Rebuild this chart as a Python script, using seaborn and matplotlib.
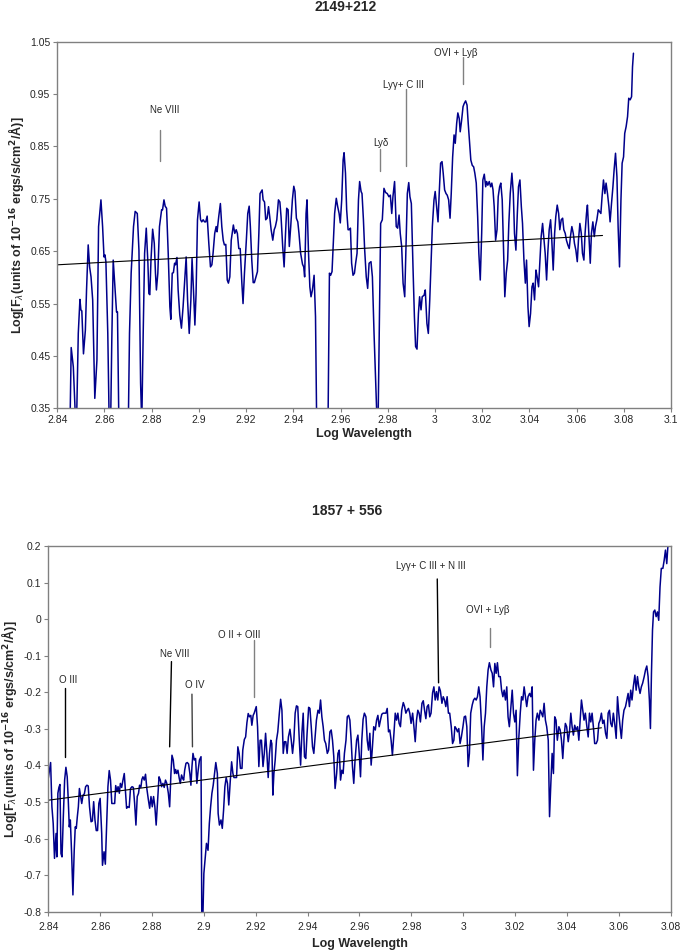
import numpy as np
import matplotlib
matplotlib.use("Agg")
import matplotlib.pyplot as plt
import seaborn as sns

# ---- spectrum 2149+212 ----
top_logwav = [
    2.8454, 2.8459, 2.8468, 2.8478, 2.8482, 2.8489, 2.8496, 2.8500, 2.8504, 2.8511,
    2.8519, 2.8524, 2.8531, 2.8537, 2.8543, 2.8550, 2.8559, 2.8568, 2.8575, 2.8585,
    2.8592, 2.8598, 2.8602, 2.8606, 2.8614, 2.8620, 2.8626, 2.8631, 2.8637, 2.8644,
    2.8651, 2.8655, 2.8661, 2.8701, 2.8706, 2.8713, 2.8723, 2.8730, 2.8739, 2.8746,
    2.8753, 2.8758, 2.8764, 2.8770, 2.8777, 2.8784, 2.8788, 2.8792, 2.8797, 2.8804,
    2.8811, 2.8816, 2.8820, 2.8826, 2.8833, 2.8842, 2.8846, 2.8852, 2.8857, 2.8863,
    2.8870, 2.8877, 2.8881, 2.8887, 2.8892, 2.8897, 2.8901, 2.8907, 2.8912, 2.8919,
    2.8926, 2.8933, 2.8940, 2.8946, 2.8952, 2.8959, 2.8966, 2.8971, 2.8977, 2.8983,
    2.8988, 2.8994, 2.9001, 2.9007, 2.9012, 2.9018, 2.9024, 2.9029, 2.9035, 2.9042,
    2.9049, 2.9055, 2.9060, 2.9067, 2.9073, 2.9077, 2.9084, 2.9091, 2.9097, 2.9103,
    2.9108, 2.9114, 2.9120, 2.9125, 2.9131, 2.9137, 2.9142, 2.9146, 2.9152, 2.9158,
    2.9163, 2.9169, 2.9175, 2.9182, 2.9187, 2.9193, 2.9201, 2.9207, 2.9213, 2.9218,
    2.9224, 2.9230, 2.9235, 2.9242, 2.9248, 2.9254, 2.9259, 2.9264, 2.9268, 2.9272,
    2.9278, 2.9283, 2.9289, 2.9295, 2.9300, 2.9306, 2.9313, 2.9319, 2.9324, 2.9330,
    2.9337, 2.9343, 2.9348, 2.9355, 2.9361, 2.9367, 2.9372, 2.9378, 2.9383, 2.9389,
    2.9396, 2.9402, 2.9407, 2.9413, 2.9419, 2.9424, 2.9431, 2.9439, 2.9444, 2.9448,
    2.9454, 2.9458, 2.9464, 2.9470, 2.9475, 2.9481, 2.9488, 2.9494, 2.9499, 2.9547,
    2.9553, 2.9558, 2.9564, 2.9570, 2.9575, 2.9582, 2.9588, 2.9594, 2.9599, 2.9605,
    2.9611, 2.9615, 2.9621, 2.9626, 2.9632, 2.9637, 2.9642, 2.9647, 2.9653, 2.9659,
    2.9664, 2.9670, 2.9676, 2.9681, 2.9687, 2.9691, 2.9697, 2.9702, 2.9709, 2.9715,
    2.9721, 2.9729, 2.9735, 2.9742, 2.9749, 2.9755, 2.9759, 2.9764, 2.9770, 2.9777,
    2.9784, 2.9791, 2.9798, 2.9805, 2.9811, 2.9817, 2.9822, 2.9829, 2.9836, 2.9842,
    2.9848, 2.9853, 2.9859, 2.9865, 2.9872, 2.9877, 2.9883, 2.9889, 2.9894, 2.9900,
    2.9907, 2.9913, 2.9918, 2.9924, 2.9930, 2.9935, 2.9941, 2.9946, 2.9954, 2.9959,
    2.9966, 2.9972, 2.9978, 2.9983, 2.9989, 2.9996, 3.0001, 3.0007, 3.0013, 3.0018,
    3.0024, 3.0030, 3.0035, 3.0041, 3.0047, 3.0052, 3.0058, 3.0064, 3.0069, 3.0075,
    3.0081, 3.0086, 3.0092, 3.0097, 3.0103, 3.0107, 3.0113, 3.0119, 3.0124, 3.0130,
    3.0136, 3.0141, 3.0147, 3.0152, 3.0158, 3.0164, 3.0169, 3.0175, 3.0181, 3.0186,
    3.0192, 3.0198, 3.0203, 3.0209, 3.0215, 3.0219, 3.0224, 3.0230, 3.0236, 3.0241,
    3.0246, 3.0251, 3.0257, 3.0263, 3.0268, 3.0274, 3.0279, 3.0285, 3.0291, 3.0296,
    3.0302, 3.0308, 3.0313, 3.0319, 3.0326, 3.0332, 3.0337, 3.0343, 3.0349, 3.0354,
    3.0360, 3.0366, 3.0371, 3.0377, 3.0383, 3.0388, 3.0394, 3.0399, 3.0405, 3.0411,
    3.0416, 3.0422, 3.0428, 3.0433, 3.0439, 3.0445, 3.0450, 3.0456, 3.0462, 3.0467,
    3.0473, 3.0478, 3.0484, 3.0490, 3.0495, 3.0501, 3.0507, 3.0512, 3.0518, 3.0524,
    3.0529, 3.0535, 3.0541, 3.0546, 3.0552, 3.0557, 3.0563, 3.0569, 3.0574, 3.0580,
    3.0586, 3.0591, 3.0597, 3.0603, 3.0608, 3.0614, 3.0620, 3.0625, 3.0631, 3.0636,
    3.0642, 3.0646, 3.0652, 3.0658, 3.0663, 3.0669, 3.0675, 3.0680, 3.0686, 3.0692,
    3.0697, 3.0703, 3.0708, 3.0714, 3.0720, 3.0725, 3.0731, 3.0737, 3.0742, 3.0748,
    3.0754, 3.0759, 3.0765, 3.0771, 3.0776, 3.0782, 3.0788, 3.0793, 3.0799, 3.0804,
    3.0810, 3.0816, 3.0821, 3.0827, 3.0833, 3.0837, 3.0841,
]
top_logflux = [
    0.320, 0.466, 0.429, 0.320, 0.330, 0.493, 0.558, 0.538, 0.536, 0.454,
    0.499, 0.576, 0.662, 0.620, 0.601, 0.557, 0.369, 0.442, 0.697, 0.748,
    0.697, 0.639, 0.643, 0.630, 0.493, 0.320, 0.320, 0.480, 0.633, 0.582,
    0.534, 0.534, 0.320, 0.320, 0.493, 0.608, 0.697, 0.726, 0.722, 0.652,
    0.398, 0.320, 0.493, 0.646, 0.694, 0.627, 0.569, 0.567, 0.633, 0.692,
    0.665, 0.608, 0.576, 0.608, 0.697, 0.729, 0.729, 0.748, 0.736, 0.732,
    0.646, 0.544, 0.520, 0.608, 0.609, 0.627, 0.624, 0.638, 0.576, 0.528,
    0.503, 0.544, 0.595, 0.639, 0.557, 0.493, 0.557, 0.636, 0.576, 0.509,
    0.569, 0.710, 0.744, 0.710, 0.706, 0.710, 0.706, 0.706, 0.717, 0.665,
    0.620, 0.624, 0.646, 0.684, 0.697, 0.687, 0.716, 0.741, 0.697, 0.671,
    0.662, 0.663, 0.595, 0.589, 0.601, 0.671, 0.687, 0.700, 0.684, 0.691,
    0.684, 0.655, 0.655, 0.589, 0.550, 0.608, 0.671, 0.722, 0.736, 0.697,
    0.633, 0.590, 0.590, 0.601, 0.611, 0.684, 0.760, 0.764, 0.767, 0.748,
    0.744, 0.710, 0.713, 0.735, 0.716, 0.691, 0.671, 0.691, 0.697, 0.710,
    0.748, 0.744, 0.716, 0.659, 0.620, 0.684, 0.732, 0.729, 0.659, 0.697,
    0.748, 0.774, 0.764, 0.713, 0.706, 0.684, 0.646, 0.625, 0.620, 0.601,
    0.722, 0.748, 0.652, 0.582, 0.563, 0.576, 0.604, 0.525, 0.320, 0.320,
    0.608, 0.604, 0.611, 0.671, 0.722, 0.751, 0.735, 0.722, 0.704, 0.748,
    0.824, 0.838, 0.799, 0.729, 0.691, 0.691, 0.694, 0.627, 0.604, 0.608,
    0.627, 0.646, 0.748, 0.783, 0.764, 0.760, 0.710, 0.655, 0.601, 0.579,
    0.627, 0.630, 0.601, 0.493, 0.398, 0.320, 0.320, 0.493, 0.703, 0.710,
    0.770, 0.762, 0.760, 0.754, 0.757, 0.722, 0.754, 0.783, 0.697, 0.694,
    0.719, 0.684, 0.659, 0.589, 0.563, 0.652, 0.760, 0.781, 0.754, 0.741,
    0.620, 0.525, 0.468, 0.463, 0.531, 0.563, 0.538, 0.563, 0.566, 0.576,
    0.512, 0.493, 0.557, 0.620, 0.697, 0.748, 0.764, 0.735, 0.706, 0.760,
    0.818, 0.821, 0.799, 0.767, 0.760, 0.757, 0.748, 0.713, 0.760, 0.830,
    0.872, 0.856, 0.894, 0.914, 0.903, 0.878, 0.900, 0.926, 0.932, 0.937,
    0.929, 0.894, 0.856, 0.824, 0.814, 0.811, 0.799, 0.780, 0.716, 0.646,
    0.595, 0.684, 0.786, 0.797, 0.773, 0.783, 0.776, 0.783, 0.773, 0.780,
    0.767, 0.735, 0.671, 0.691, 0.754, 0.773, 0.780, 0.748, 0.646, 0.563,
    0.608, 0.633, 0.703, 0.760, 0.799, 0.760, 0.684, 0.652, 0.722, 0.773,
    0.786, 0.735, 0.703, 0.633, 0.589, 0.633, 0.544, 0.506, 0.531, 0.582,
    0.589, 0.557, 0.614, 0.601, 0.582, 0.633, 0.678, 0.703, 0.671, 0.646,
    0.595, 0.646, 0.691, 0.710, 0.671, 0.614, 0.684, 0.716, 0.738, 0.722,
    0.691, 0.710, 0.713, 0.691, 0.684, 0.671, 0.662, 0.655, 0.678, 0.697,
    0.684, 0.665, 0.652, 0.630, 0.671, 0.703, 0.684, 0.646, 0.633, 0.684,
    0.722, 0.738, 0.684, 0.627, 0.684, 0.706, 0.678, 0.697, 0.710, 0.729,
    0.726, 0.722, 0.754, 0.786, 0.760, 0.780, 0.760, 0.735, 0.706, 0.741,
    0.773, 0.805, 0.837, 0.792, 0.697, 0.620, 0.748, 0.818, 0.830, 0.875,
    0.888, 0.907, 0.942, 0.939, 0.945, 1.002, 1.028,
]
top_trend_x = [2.84, 3.071]
top_trend_y = [0.624, 0.680]

top_labels = ["Ne VIII", "Lyδ", "Lyγ+ C III", "OVI + Lyβ"]
top_label_x = [2.8853, 2.9769, 2.9867, 3.0089]
top_label_y = [0.920, 0.856, 0.967, 1.028]
top_tick_x = [2.8837, 2.9766, 2.9877, 3.0119]
top_tick_y0 = [0.881, 0.846, 0.959, 1.021]
top_tick_y1 = [0.823, 0.804, 0.813, 0.970]

# ---- spectrum 1857 + 556 ----
bot_logwav = [
    2.8400, 2.8409, 2.8414, 2.8419, 2.8424, 2.8430, 2.8433, 2.8437, 2.8441, 2.8445,
    2.8449, 2.8453, 2.8458, 2.8463, 2.8468, 2.8473, 2.8477, 2.8481, 2.8485, 2.8490,
    2.8495, 2.8500, 2.8504, 2.8508, 2.8512, 2.8516, 2.8520, 2.8525, 2.8529, 2.8534,
    2.8539, 2.8544, 2.8549, 2.8554, 2.8559, 2.8565, 2.8570, 2.8575, 2.8580, 2.8585,
    2.8590, 2.8595, 2.8600, 2.8606, 2.8609, 2.8615, 2.8620, 2.8625, 2.8630, 2.8635,
    2.8640, 2.8645, 2.8651, 2.8656, 2.8660, 2.8665, 2.8669, 2.8674, 2.8678, 2.8683,
    2.8688, 2.8693, 2.8698, 2.8702, 2.8707, 2.8712, 2.8717, 2.8723, 2.8728, 2.8733,
    2.8738, 2.8743, 2.8748, 2.8752, 2.8757, 2.8761, 2.8765, 2.8770, 2.8775, 2.8780,
    2.8786, 2.8791, 2.8796, 2.8801, 2.8806, 2.8811, 2.8816, 2.8821, 2.8827, 2.8832,
    2.8837, 2.8842, 2.8847, 2.8852, 2.8857, 2.8863, 2.8868, 2.8873, 2.8877, 2.8882,
    2.8887, 2.8891, 2.8895, 2.8900, 2.8905, 2.8909, 2.8914, 2.8918, 2.8922, 2.8926,
    2.8931, 2.8936, 2.8941, 2.8946, 2.8950, 2.8954, 2.8958, 2.8963, 2.8968, 2.8973,
    2.8978, 2.8983, 2.8989, 2.8992, 2.8996, 2.9000, 2.9005, 2.9010, 2.9016, 2.9021,
    2.9026, 2.9031, 2.9036, 2.9041, 2.9046, 2.9052, 2.9055, 2.9060, 2.9066, 2.9071,
    2.9076, 2.9081, 2.9086, 2.9091, 2.9096, 2.9102, 2.9107, 2.9112, 2.9116, 2.9121,
    2.9126, 2.9131, 2.9136, 2.9141, 2.9147, 2.9150, 2.9156, 2.9161, 2.9166, 2.9171,
    2.9176, 2.9181, 2.9185, 2.9190, 2.9194, 2.9202, 2.9207, 2.9212, 2.9217, 2.9222,
    2.9228, 2.9233, 2.9238, 2.9243, 2.9248, 2.9253, 2.9258, 2.9262, 2.9266, 2.9270,
    2.9275, 2.9280, 2.9285, 2.9291, 2.9296, 2.9301, 2.9306, 2.9311, 2.9316, 2.9321,
    2.9326, 2.9332, 2.9337, 2.9342, 2.9347, 2.9352, 2.9357, 2.9362, 2.9368, 2.9373,
    2.9378, 2.9383, 2.9388, 2.9393, 2.9398, 2.9404, 2.9409, 2.9414, 2.9419, 2.9424,
    2.9429, 2.9434, 2.9440, 2.9445, 2.9450, 2.9455, 2.9460, 2.9465, 2.9470, 2.9476,
    2.9481, 2.9486, 2.9491, 2.9496, 2.9501, 2.9506, 2.9512, 2.9517, 2.9522, 2.9527,
    2.9532, 2.9537, 2.9542, 2.9548, 2.9553, 2.9558, 2.9563, 2.9568, 2.9573, 2.9578,
    2.9583, 2.9589, 2.9594, 2.9599, 2.9604, 2.9609, 2.9614, 2.9619, 2.9625, 2.9630,
    2.9635, 2.9640, 2.9645, 2.9650, 2.9655, 2.9661, 2.9666, 2.9671, 2.9676, 2.9681,
    2.9686, 2.9691, 2.9697, 2.9702, 2.9707, 2.9712, 2.9717, 2.9722, 2.9727, 2.9733,
    2.9738, 2.9743, 2.9748, 2.9753, 2.9758, 2.9763, 2.9769, 2.9774, 2.9779, 2.9784,
    2.9789, 2.9794, 2.9799, 2.9805, 2.9810, 2.9815, 2.9820, 2.9825, 2.9830, 2.9835,
    2.9841, 2.9846, 2.9851, 2.9856, 2.9861, 2.9866, 2.9871, 2.9876, 2.9882, 2.9887,
    2.9892, 2.9897, 2.9902, 2.9907, 2.9912, 2.9918, 2.9923, 2.9928, 2.9933, 2.9938,
    2.9943, 2.9948, 2.9954, 2.9959, 2.9964, 2.9968, 2.9973, 2.9978, 2.9983, 2.9988,
    2.9993, 2.9999, 3.0004, 3.0009, 3.0014, 3.0019, 3.0024, 3.0029, 3.0035, 3.0040,
    3.0045, 3.0050, 3.0055, 3.0060, 3.0065, 3.0071, 3.0076, 3.0081, 3.0086, 3.0091,
    3.0096, 3.0101, 3.0107, 3.0112, 3.0117, 3.0122, 3.0127, 3.0132, 3.0137, 3.0143,
    3.0148, 3.0153, 3.0158, 3.0163, 3.0168, 3.0173, 3.0178, 3.0184, 3.0189, 3.0194,
    3.0199, 3.0204, 3.0209, 3.0214, 3.0220, 3.0225, 3.0230, 3.0235, 3.0240, 3.0245,
    3.0250, 3.0256, 3.0261, 3.0266, 3.0271, 3.0276, 3.0281, 3.0286, 3.0292, 3.0297,
    3.0302, 3.0307, 3.0312, 3.0317, 3.0322, 3.0328, 3.0333, 3.0338, 3.0343, 3.0348,
    3.0353, 3.0358, 3.0363, 3.0369, 3.0374, 3.0379, 3.0384, 3.0389, 3.0394, 3.0399,
    3.0405, 3.0410, 3.0415, 3.0420, 3.0425, 3.0430, 3.0435, 3.0441, 3.0446, 3.0451,
    3.0456, 3.0461, 3.0466, 3.0471, 3.0477, 3.0482, 3.0487, 3.0492, 3.0497, 3.0502,
    3.0507, 3.0513, 3.0518, 3.0523, 3.0528, 3.0533, 3.0538, 3.0543, 3.0549, 3.0554,
    3.0559, 3.0564, 3.0569, 3.0574, 3.0579, 3.0585, 3.0590, 3.0595, 3.0600, 3.0605,
    3.0610, 3.0615, 3.0620, 3.0626, 3.0631, 3.0636, 3.0641, 3.0646, 3.0651, 3.0656,
    3.0662, 3.0667, 3.0672, 3.0677, 3.0682, 3.0687, 3.0692, 3.0698, 3.0703, 3.0708,
    3.0713, 3.0718, 3.0722, 3.0726, 3.0730, 3.0734, 3.0739, 3.0744, 3.0749, 3.0754,
    3.0759, 3.0764, 3.0770, 3.0775, 3.0780, 3.0785, 3.0789, 3.0793,
]
bot_logflux = [
    -0.435, -0.392, -0.513, -0.559, -0.654, -0.586, -0.650, -0.476, -0.460, -0.452,
    -0.641, -0.650, -0.540, -0.440, -0.405, -0.431, -0.494, -0.568, -0.549, -0.641,
    -0.754, -0.632, -0.568, -0.572, -0.540, -0.513, -0.463, -0.485, -0.504, -0.481,
    -0.478, -0.458, -0.454, -0.456, -0.513, -0.554, -0.552, -0.499, -0.549, -0.578,
    -0.578, -0.504, -0.490, -0.586, -0.673, -0.636, -0.670, -0.568, -0.458, -0.414,
    -0.440, -0.504, -0.504, -0.504, -0.455, -0.472, -0.458, -0.476, -0.449, -0.460,
    -0.440, -0.422, -0.476, -0.517, -0.513, -0.515, -0.463, -0.458, -0.460, -0.504,
    -0.563, -0.485, -0.476, -0.454, -0.460, -0.438, -0.431, -0.440, -0.424, -0.463,
    -0.494, -0.517, -0.485, -0.513, -0.485, -0.513, -0.563, -0.504, -0.431, -0.440,
    -0.458, -0.449, -0.460, -0.440, -0.449, -0.476, -0.513, -0.422, -0.372, -0.385,
    -0.422, -0.411, -0.422, -0.413, -0.435, -0.449, -0.426, -0.435, -0.440, -0.413,
    -0.394, -0.392, -0.396, -0.422, -0.454, -0.404, -0.367, -0.385, -0.381, -0.449,
    -0.413, -0.385, -0.376, -0.820, -0.820, -0.695, -0.654, -0.613, -0.632, -0.559,
    -0.513, -0.476, -0.454, -0.422, -0.392, -0.422, -0.531, -0.563, -0.549, -0.572,
    -0.522, -0.458, -0.433, -0.449, -0.508, -0.440, -0.390, -0.422, -0.433, -0.433,
    -0.433, -0.349, -0.367, -0.408, -0.408, -0.358, -0.329, -0.322, -0.283, -0.258,
    -0.267, -0.263, -0.290, -0.263, -0.257, -0.239, -0.294, -0.403, -0.331, -0.331,
    -0.403, -0.367, -0.312, -0.367, -0.433, -0.367, -0.331, -0.340, -0.481, -0.422,
    -0.385, -0.331, -0.308, -0.257, -0.219, -0.249, -0.367, -0.335, -0.335, -0.367,
    -0.322, -0.301, -0.331, -0.367, -0.331, -0.257, -0.237, -0.239, -0.331, -0.399,
    -0.312, -0.257, -0.376, -0.381, -0.312, -0.241, -0.244, -0.294, -0.349, -0.367,
    -0.322, -0.276, -0.249, -0.257, -0.221, -0.267, -0.294, -0.331, -0.340, -0.367,
    -0.358, -0.308, -0.303, -0.331, -0.376, -0.463, -0.422, -0.367, -0.358, -0.440,
    -0.413, -0.422, -0.367, -0.331, -0.267, -0.263, -0.276, -0.331, -0.403, -0.449,
    -0.385, -0.331, -0.317, -0.367, -0.431, -0.331, -0.274, -0.257, -0.267, -0.331,
    -0.358, -0.312, -0.399, -0.349, -0.294, -0.303, -0.276, -0.263, -0.294, -0.276,
    -0.260, -0.257, -0.257, -0.257, -0.244, -0.308, -0.303, -0.331, -0.372, -0.312,
    -0.257, -0.276, -0.257, -0.285, -0.294, -0.249, -0.228, -0.239, -0.257, -0.249,
    -0.244, -0.257, -0.285, -0.257, -0.294, -0.335, -0.276, -0.249, -0.257, -0.281,
    -0.230, -0.223, -0.249, -0.272, -0.239, -0.234, -0.267, -0.257, -0.201, -0.185,
    -0.221, -0.198, -0.221, -0.185, -0.196, -0.230, -0.212, -0.221, -0.239, -0.212,
    -0.257, -0.257, -0.294, -0.340, -0.331, -0.294, -0.299, -0.308, -0.299, -0.340,
    -0.322, -0.294, -0.267, -0.265, -0.294, -0.403, -0.367, -0.257, -0.234, -0.221,
    -0.216, -0.221, -0.212, -0.185, -0.212, -0.294, -0.385, -0.294, -0.257, -0.185,
    -0.139, -0.119, -0.139, -0.148, -0.185, -0.121, -0.148, -0.119, -0.157, -0.157,
    -0.194, -0.212, -0.194, -0.221, -0.185, -0.267, -0.294, -0.239, -0.194, -0.257,
    -0.281, -0.249, -0.428, -0.331, -0.257, -0.212, -0.221, -0.185, -0.212, -0.239,
    -0.212, -0.203, -0.212, -0.185, -0.413, -0.331, -0.276, -0.257, -0.276, -0.249,
    -0.257, -0.267, -0.230, -0.276, -0.294, -0.331, -0.540, -0.449, -0.367, -0.422,
    -0.267, -0.276, -0.331, -0.294, -0.303, -0.331, -0.381, -0.322, -0.285, -0.294,
    -0.335, -0.308, -0.257, -0.294, -0.317, -0.290, -0.303, -0.294, -0.331, -0.276,
    -0.221, -0.249, -0.276, -0.257, -0.294, -0.322, -0.257, -0.281, -0.257, -0.294,
    -0.340, -0.340, -0.331, -0.285, -0.276, -0.257, -0.285, -0.276, -0.312, -0.326,
    -0.257, -0.249, -0.285, -0.294, -0.257, -0.290, -0.326, -0.212, -0.257, -0.294,
    -0.326, -0.276, -0.249, -0.239, -0.221, -0.203, -0.239, -0.194, -0.221, -0.185,
    -0.153, -0.194, -0.157, -0.185, -0.203, -0.185, -0.175, -0.157, -0.139, -0.128,
    -0.157, -0.221, -0.299, -0.148, -0.030, 0.020, 0.025, 0.007, 0.020, -0.003,
    0.088, 0.139, 0.139, 0.161, 0.189, 0.152, 0.196, 0.207,
]
bot_trend_x = [2.84, 3.0533]
bot_trend_y = [-0.495, -0.297]

bot_labels = ["O III", "Ne VIII", "O IV", "O II + OIII", "Lyγ+ C III + N III", "OVI + Lyβ"]
bot_label_x = [2.8475, 2.8886, 2.8965, 2.9136, 2.9874, 3.0094]
bot_label_y = [-0.165, -0.095, -0.180, -0.042, 0.145, 0.025]
bot_tick_x0 = [2.8466, 2.8875, 2.8954, 2.9194, 2.9900, 3.0103]
bot_tick_x1 = [2.8466, 2.8868, 2.8956, 2.9194, 2.9905, 3.0103]
bot_tick_y0 = [-0.189, -0.116, -0.205, -0.057, 0.110, -0.025]
bot_tick_y1 = [-0.378, -0.349, -0.349, -0.214, -0.174, -0.075]
bot_tick_colors = ["black", "black", "#404040", "#808080", "black", "#808080"]

sns.set_style("white")
plt.rcParams["font.family"] = ["Liberation Sans", "DejaVu Sans"]

spec_color = "#00008B"
ylab = r"Log[F$_\lambda$(units of 10$^{\mathbf{-16}}$ ergs/s/cm$^{\mathbf{2}}$/Å)]"


def num_fmt(v, pos):
    v = round(v, 2)
    if v == 0:
        return "0"
    return "%g" % v


fig = plt.figure(figsize=(6.81, 9.52), dpi=100)
ax1 = fig.add_axes([0.0841, 0.5711, 0.9012, 0.3851])
ax2 = fig.add_axes([0.0709, 0.0423, 0.9139, 0.3841])

# top panel
sns.lineplot(x=top_logwav, y=top_logflux, ax=ax1, color=spec_color, linewidth=1.1,
             sort=False, estimator=None)
sns.lineplot(x=top_trend_x, y=top_trend_y, ax=ax1, color="black", linewidth=0.8,
             sort=False, estimator=None)
for t, lx, ly, tx, y0, y1 in zip(top_labels, top_label_x, top_label_y,
                                 top_tick_x, top_tick_y0, top_tick_y1):
    ax1.text(lx, ly, t, fontsize=7, ha="center", va="center")
    ax1.plot([tx, tx], [y0, y1], color="#808080", linewidth=1)
ax1.set_xlim(2.84, 3.1)
ax1.set_ylim(0.35, 1.05)
ax1.set_xticks(np.arange(2.84, 3.1001, 0.02))
ax1.set_yticks(np.arange(0.35, 1.0501, 0.1))

# bottom panel
sns.lineplot(x=bot_logwav, y=bot_logflux, ax=ax2, color=spec_color, linewidth=1.1,
             sort=False, estimator=None)
sns.lineplot(x=bot_trend_x, y=bot_trend_y, ax=ax2, color="black", linewidth=0.8,
             sort=False, estimator=None)
for t, lx, ly, x0, x1, y0, y1, c in zip(bot_labels, bot_label_x, bot_label_y,
                                        bot_tick_x0, bot_tick_x1, bot_tick_y0,
                                        bot_tick_y1, bot_tick_colors):
    ax2.text(lx, ly, t, fontsize=7, ha="center", va="center")
    ax2.plot([x0, x1], [y0, y1], color=c, linewidth=1)
ax2.set_xlim(2.84, 3.08)
ax2.set_ylim(-0.8, 0.2)
ax2.set_xticks(np.arange(2.84, 3.0801, 0.02))
ax2.set_yticks(np.arange(-0.8, 0.2001, 0.1))

for ax in (ax1, ax2):
    ax.xaxis.set_major_formatter(matplotlib.ticker.FuncFormatter(num_fmt))
    ax.yaxis.set_major_formatter(matplotlib.ticker.FuncFormatter(num_fmt))
    ax.tick_params(axis="both", direction="out", length=3, width=0.8, color="#808080",
                   labelsize=7.5, pad=2, bottom=True, left=True)
    for s in ax.spines.values():
        s.set_color("#808080")
        s.set_linewidth(1)
    ax.set_ylabel(ylab, fontsize=9, fontweight="bold", labelpad=3)

ax1.set_xlabel("Log Wavelength", fontsize=9, fontweight="bold", labelpad=2)
ax2.tick_params(axis="x", pad=4.5)
ax2.set_xlabel("Log Wavelength", fontsize=9, fontweight="bold", labelpad=4)

fig.text(346 / 681, 1 - 7 / 952, "2149+212", fontsize=10, fontweight="bold",
         ha="center", va="center")
fig.text(347 / 681, 1 - 511 / 952, "1857 + 556", fontsize=10, fontweight="bold",
         ha="center", va="center")

fig.savefig("out.png", dpi=100)
